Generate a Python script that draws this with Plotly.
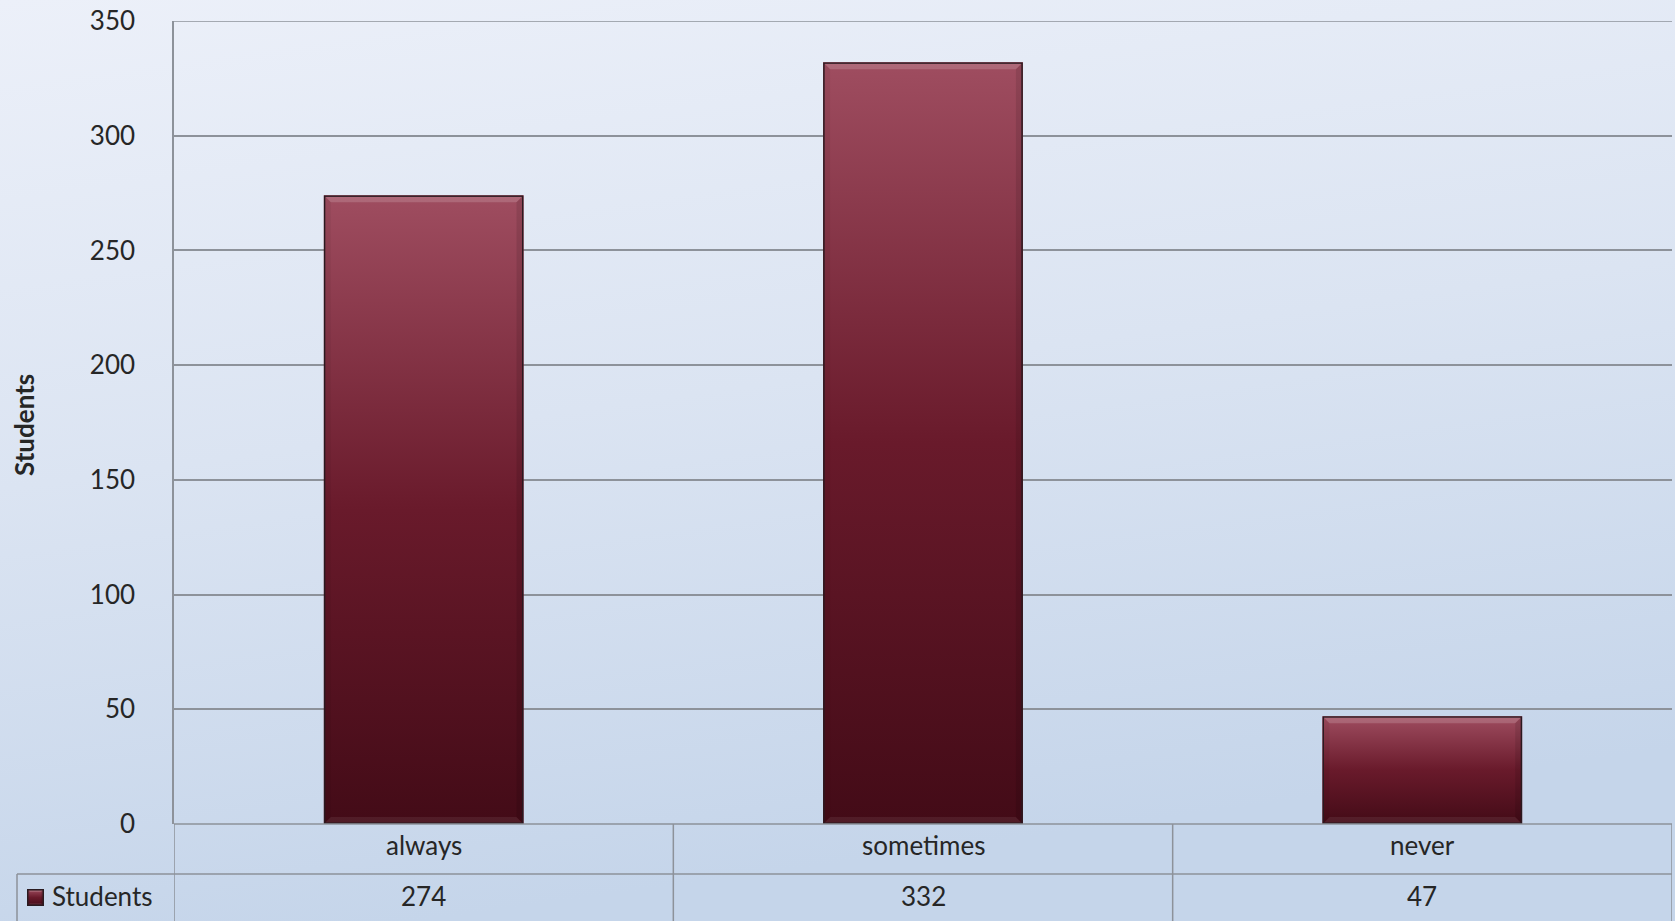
import base64
import plotly.graph_objects as go

# ---- data ----
categories = ["always", "sometimes", "never"]
students = [274, 332, 47]
series_name = "Students"
y_ticks = [0, 50, 100, 150, 200, 250, 300, 350]

# ---- page geometry (pixels) ----
W, H = 1675, 921
M_L, M_R, M_T, M_B = 174, 3, 21, 97
PLOT_W = W - M_L - M_R
PLOT_H = H - M_T - M_B
Y_MAX = 350
BAR_W = 0.4
ROW1_BOTTOM = 874          # bottom of the category row of the data table
LEGEND_LEFT = 17           # left edge of the legend cell

FONT = "Liberation Sans Narrow, Lato, Arial, sans-serif"
TEXT = "#262626"
GRID = "#8d929a"


def px_x(px):
    return (px - M_L) / PLOT_W


def px_y(py):
    return (H - M_B - py) / PLOT_H


def svg_uri(svg):
    return "data:image/svg+xml;base64," + base64.b64encode(svg.encode()).decode()


def bar_svg(w, h, b=7):
    """Bevelled maroon bar face, drawn at its on-screen pixel size."""
    b = min(b, h / 4, w / 4)
    return f"""<svg xmlns='http://www.w3.org/2000/svg' width='{w:.2f}' height='{h:.2f}' viewBox='0 0 {w:.2f} {h:.2f}' preserveAspectRatio='none'>
<defs><linearGradient id='g' x1='0' y1='0' x2='0' y2='1'>
<stop offset='0' stop-color='#9f4d60'/><stop offset='0.5' stop-color='#691a2b'/><stop offset='1' stop-color='#430b17'/>
</linearGradient></defs>
<rect width='{w:.2f}' height='{h:.2f}' fill='url(#g)'/>
<polygon points='0,0 {w:.2f},0 {w-b:.2f},{b:.2f} {b:.2f},{b:.2f}' fill='#ffffff' fill-opacity='0.16'/>
<polygon points='0,{h:.2f} {w:.2f},{h:.2f} {w-b:.2f},{h-b:.2f} {b:.2f},{h-b:.2f}' fill='#ffffff' fill-opacity='0.07'/>
<polygon points='0,0 {b:.2f},{b:.2f} {b:.2f},{h-b:.2f} 0,{h:.2f}' fill='#000000' fill-opacity='0.05'/>
<polygon points='{w:.2f},0 {w-b:.2f},{b:.2f} {w-b:.2f},{h-b:.2f} {w:.2f},{h:.2f}' fill='#000000' fill-opacity='0.10'/>
<rect x='0.75' y='0.75' width='{w-1.5:.2f}' height='{h-1.5:.2f}' fill='none' stroke='#2a1a20' stroke-width='1.5'/>
</svg>"""


bg_svg = f"""<svg xmlns='http://www.w3.org/2000/svg' width='{W}' height='{H}' viewBox='0 0 {W} {H}' preserveAspectRatio='none'>
<defs><linearGradient id='bg' x1='0' y1='0' x2='0.25' y2='1'>
<stop offset='0' stop-color='#ecf0f9'/><stop offset='0.5' stop-color='#dbe4f2'/><stop offset='1' stop-color='#c5d5ea'/>
</linearGradient></defs>
<rect width='{W}' height='{H}' fill='url(#bg)'/>
</svg>"""

fig = go.Figure()

fig.add_trace(go.Bar(
    x=categories, y=students, name=series_name, width=BAR_W,
    marker=dict(color="#6c1a2c", line=dict(width=0)),
    showlegend=False, hoverinfo="x+y",
))

images = [dict(
    source=svg_uri(bg_svg), xref="paper", yref="paper",
    x=px_x(0), y=px_y(0), sizex=W / PLOT_W, sizey=H / PLOT_H,
    xanchor="left", yanchor="top", sizing="stretch", layer="below",
)]

cat_px = PLOT_W / len(categories)
unit_px = PLOT_H / Y_MAX
for i, v in enumerate(students):
    images.append(dict(
        source=svg_uri(bar_svg(BAR_W * cat_px, v * unit_px)),
        xref="x", yref="y", x=i - BAR_W / 2, y=v,
        sizex=BAR_W, sizey=v, xanchor="left", yanchor="top",
        sizing="stretch", layer="above",
    ))

# legend key inside the data table
images.append(dict(
    source=svg_uri(bar_svg(17, 17, b=3)),
    xref="paper", yref="paper", x=px_x(27), y=px_y(889),
    sizex=17 / PLOT_W, sizey=17 / PLOT_H, xanchor="left", yanchor="top",
    sizing="stretch", layer="above",
))

# ---- grid edge and data table lines ----
line = dict(color=GRID, width=1.5)
shapes = [
    # gridline at the top of the value range
    dict(type="line", xref="paper", yref="y", x0=0, x1=1, y0=Y_MAX, y1=Y_MAX,
         line=line, layer="below"),
    # axis line / top of table
    dict(type="line", xref="paper", yref="paper", x0=0, x1=1, y0=0, y1=0, line=line),
    # row separator, spans the legend cell too
    dict(type="line", xref="paper", yref="paper", x0=px_x(LEGEND_LEFT), x1=1,
         y0=px_y(ROW1_BOTTOM), y1=px_y(ROW1_BOTTOM), line=line),
    # legend cell left edge
    dict(type="line", xref="paper", yref="paper", x0=px_x(LEGEND_LEFT), x1=px_x(LEGEND_LEFT),
         y0=px_y(ROW1_BOTTOM), y1=px_y(H + 2), line=line),
]
for k in range(len(categories) + 1):
    xb = k - 0.5
    shapes.append(dict(type="line", xref="x", yref="paper", x0=xb, x1=xb,
                       y0=0, y1=px_y(H + 2), line=line))

annotations = []
for i, (c, v) in enumerate(zip(categories, students)):
    annotations.append(dict(xref="x", yref="paper", x=i, y=px_y(845),
                            text=c, showarrow=False, xanchor="center", yanchor="middle",
                            font=dict(family=FONT, size=26, color=TEXT)))
    annotations.append(dict(xref="x", yref="paper", x=i, y=px_y(896),
                            text=str(v), showarrow=False, xanchor="center", yanchor="middle",
                            font=dict(family=FONT, size=26, color=TEXT)))
annotations.append(dict(xref="paper", yref="paper", x=px_x(50), y=px_y(896),
                        text=series_name, showarrow=False, xanchor="left", yanchor="middle",
                        font=dict(family=FONT, size=26, color=TEXT)))
annotations.append(dict(xref="paper", yref="paper", x=px_x(24), y=px_y(425),
                        text="<b>Students</b>", textangle=-90, showarrow=False,
                        xanchor="center", yanchor="middle",
                        font=dict(family=FONT, size=26, color=TEXT)))

fig.update_layout(
    width=W, height=H,
    margin=dict(l=M_L, r=M_R, t=M_T, b=M_B, pad=0),
    paper_bgcolor="#dbe4f2", plot_bgcolor="rgba(0,0,0,0)",
    images=images, shapes=shapes, annotations=annotations,
    font=dict(family=FONT, size=26, color=TEXT),
    xaxis=dict(type="category", range=[-0.5, 2.5], showticklabels=False,
               showgrid=False, zeroline=False, showline=False, ticks=""),
    yaxis=dict(range=[0, Y_MAX], tickvals=y_ticks, showgrid=True, gridcolor=GRID,
               gridwidth=1.5, zeroline=False, showline=True, linecolor=GRID, linewidth=1.5,
               ticks="", ticklabelstandoff=32,
               tickfont=dict(family=FONT, size=26, color=TEXT)),
    bargap=0.6,
)

fig.write_html("out.html")
